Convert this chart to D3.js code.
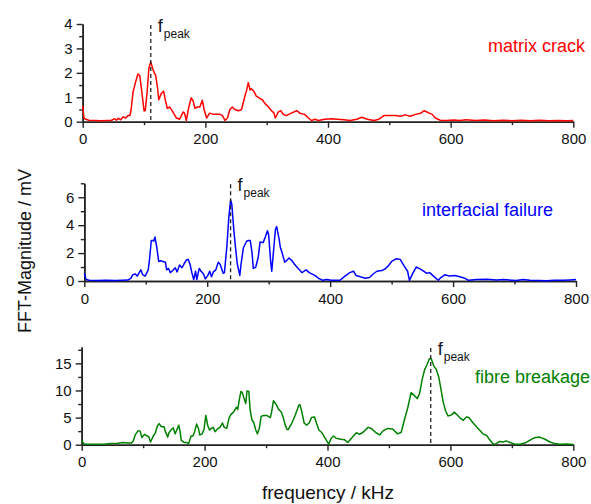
<!DOCTYPE html>
<html>
<head>
<meta charset="utf-8">
<script src="https://cdn.jsdelivr.net/npm/d3@7.9.0/dist/d3.min.js"></script>
<style>
  body { margin: 0; background: #fff; }
  svg text { font-family: Arial, "Liberation Sans", sans-serif; }
  .axis path, .axis line { stroke: #222; }
  .axis path { stroke-width: 1.6; }
  .axis line { stroke-width: 1.4; }
  .axis text { font-size: 15px; fill: #111; }
</style>
</head>
<body>
<div id="chart"></div>
<script>
// frequency (kHz) / magnitude (mV) pairs
const matrixCrack = [
  [0,0.65],[2,0.15],[5,0.1],[10,0.06],[20,0.05],[30,0.04],[40,0.05],[47,0.06],[52,0.12],[55,0.06],
  [58,0.14],[62,0.08],[66,0.2],[70,0.15],[74,0.25],[77,0.25],[79,0.5],[82,1.2],[86,1.6],[90,1.95],
  [93,1.9],[97,1.1],[100,0.45],[102,0.45],[105,1.2],[108,2.2],[111,2.45],[115,2.1],[119,1.9],[122,1.4],
  [124,0.9],[128,1.15],[132,1.25],[135,0.85],[138,0.55],[142,0.6],[147,0.4],[153,0.15],[158,0.1],[164,0.4],
  [166,0.35],[169,0.05],[173,0.6],[177,0.98],[180,0.85],[183,0.55],[187,0.6],[191,0.6],[195,0.88],[198,0.5],
  [202,0.15],[207,0.35],[213,0.3],[218,0.3],[224,0.3],[228,0.25],[232,0.05],[236,0.15],[240,0.5],[244,0.6],
  [248,0.5],[254,0.45],[259,0.5],[265,1.1],[267,1.25],[270,1.6],[273,1.3],[275,1.35],[279,1.25],[283,1.05],
  [289,0.95],[293,0.9],[297,0.75],[303,0.6],[308,0.45],[312,0.35],[314,0.15],[319,0.4],[323,0.45],[327,0.3],
  [332,0.25],[340,0.35],[349,0.45],[354,0.35],[362,0.3],[368,0.15],[373,0.05],[379,0.1],[384,0.05],[395,0.1],
  [406,0.12],[415,0.1],[426,0.08],[436,0.05],[447,0.1],[455,0.18],[464,0.1],[475,0.05],[483,0.1],[491,0.25],
  [499,0.25],[510,0.25],[518,0.22],[526,0.28],[534,0.22],[543,0.3],[551,0.35],[557,0.45],[565,0.35],[570,0.3],
  [575,0.15],[583,0.06],[594,0.05],[605,0.07],[615,0.05],[625,0.08],[640,0.05],[655,0.07],[670,0.04],[685,0.06],
  [700,0.04],[715,0.06],[730,0.04],[745,0.06],[760,0.04],[775,0.05],[790,0.04],[800,0.05]
];

const interfacialFailure = [
  [0,0.55],[3,0.1],[8,0.05],[20,0.04],[35,0.05],[50,0.04],[62,0.06],[71,0.07],[76,0.2],[79,0.45],
  [83,0.5],[86,0.35],[92,0.8],[95,0.45],[99,0.35],[104,0.8],[106,1.5],[109,2.9],[112,2.9],[113,2.85],
  [115,3.15],[118,2.4],[121,1.4],[124,1.45],[128,1.4],[132,1.35],[134,0.8],[137,0.9],[140,0.6],[144,0.75],
  [148,0.95],[151,0.65],[155,1.15],[159,0.95],[162,1.2],[166,1.5],[169,1.55],[172,1.2],[175,0.6],[178,0.1],
  [181,0.7],[183,0.1],[187,0.9],[190,0.7],[194,0.5],[197,0.15],[201,0.4],[204,0.7],[207,0.3],[210,0.65],
  [214,0.8],[218,1.35],[221,1.2],[226,0.55],[228,0.6],[232,2.5],[235,4.5],[238,5.8],[240,5.5],[243,3.8],
  [246,2.4],[249,1.2],[253,0.4],[255,1.2],[259,2.4],[264,2.85],[267,2.9],[270,2.9],[273,2.0],[275,0.9],
  [279,1.0],[283,1.7],[286,2.8],[291,2.75],[295,3.2],[298,3.6],[300,3.3],[303,1.5],[305,0.7],[308,2.2],
  [311,3.7],[313,3.9],[317,3.0],[319,2.4],[322,2.0],[326,1.35],[330,1.5],[333,1.65],[337,1.5],[342,1.2],
  [348,0.9],[354,0.6],[361,0.8],[366,0.6],[375,0.4],[381,0.2],[388,0.05],[394,0.1],[402,0.05],[410,0.05],
  [416,0.05],[424,0.35],[432,0.6],[438,0.7],[442,0.4],[449,0.3],[457,0.2],[464,0.25],[470,0.5],[476,0.7],
  [484,0.75],[489,0.85],[495,1.1],[500,1.4],[508,1.6],[514,1.55],[520,1.1],[526,0.7],[529,0.05],[535,0.6],
  [540,1.0],[547,0.85],[552,0.7],[557,0.55],[562,0.6],[568,0.35],[576,0.05],[580,0.25],[587,0.45],[594,0.35],
  [603,0.4],[611,0.3],[619,0.2],[625,0.05],[639,0.1],[655,0.12],[671,0.08],[682,0.1],[703,0.03],[714,0.1],
  [725,0.05],[740,0.04],[752,0.02],[765,0.06],[780,0.05],[790,0.08],[800,0.1]
];

const fibreBreakage = [
  [0,0.9],[3,0.2],[8,0.1],[20,0.08],[35,0.1],[48,0.2],[59,0.25],[67,0.4],[75,0.3],[81,0.3],
  [84,0.7],[87,1.8],[92,2.6],[95,2.5],[98,1.3],[102,1.9],[105,1.7],[109,1.5],[112,0.5],[116,1.5],
  [120,2.2],[123,3.4],[126,3.9],[129,3.4],[131,3.3],[134,3.3],[136,2.5],[140,1.4],[142,2.2],[146,2.8],
  [149,3.1],[152,2.0],[155,2.8],[158,3.6],[160,2.5],[162,0.8],[167,0.4],[171,0.4],[174,0.2],[178,1.6],
  [181,1.6],[184,2.5],[187,3.8],[190,3.0],[192,1.8],[196,2.0],[199,2.8],[202,5.4],[205,3.6],[208,2.7],
  [211,3.0],[214,3.2],[217,2.4],[221,2.9],[225,3.2],[229,4.0],[232,3.2],[236,3.0],[240,5.0],[243,5.6],
  [247,6.0],[249,6.4],[252,6.9],[254,6.5],[256,8.0],[259,9.8],[261,9.7],[264,8.6],[267,7.6],[269,9.9],
  [272,9.8],[274,6.5],[277,4.6],[280,4.1],[283,2.8],[286,2.0],[289,3.0],[292,5.2],[296,5.4],[301,5.4],
  [307,5.0],[309,6.0],[312,8.1],[316,7.5],[320,6.6],[325,6.0],[328,5.0],[331,3.7],[334,2.8],[336,2.8],
  [342,4.0],[347,5.3],[353,7.2],[355,7.4],[358,6.2],[362,4.0],[366,3.6],[370,4.0],[374,5.0],[379,5.1],
  [382,4.0],[386,2.7],[391,2.2],[396,1.2],[402,0.1],[406,1.2],[410,1.6],[414,1.2],[422,1.0],[428,0.9],
  [433,0.4],[439,1.2],[447,2.2],[452,1.9],[458,2.3],[466,3.2],[471,3.0],[479,2.2],[485,1.8],[490,2.5],
  [498,3.0],[506,2.9],[514,2.0],[520,2.3],[525,4.5],[531,7.0],[536,9.6],[542,9.0],[546,8.5],[550,9.5],
  [554,12.0],[558,13.8],[562,14.8],[566,15.9],[569,15.8],[573,14.5],[577,13.9],[581,12.5],[585,10.0],[588,8.0],
  [592,6.3],[596,5.3],[602,5.5],[606,6.0],[610,5.6],[615,5.0],[621,4.5],[626,5.1],[630,5.0],[637,4.0],
  [645,3.0],[653,2.0],[659,1.7],[664,0.9],[670,0.1],[675,0.2],[680,0.6],[686,0.5],[691,0.7],[697,0.4],
  [705,0.1],[713,0.1],[721,0.3],[729,0.8],[737,1.3],[745,1.4],[754,1.0],[762,0.5],[770,0.2],[778,0.1],
  [789,0.15],[800,0.05]
];

const seriesNames = ['matrix crack', 'interfacial failure', 'fibre breakage'];
const seriesColors = ['#ff0000', '#0000ff', '#008000'];
const peakFreqs = [111, 238, 568];
const yMax = [4, 7, 18];
const yMajorTicks = [[0, 1, 2, 3, 4], [0, 2, 4, 6], [0, 5, 10, 15]];
const yMinorTicks = [[0.5, 1.5, 2.5, 3.5], [1, 3, 5, 7], [2.5, 7.5, 12.5, 17.5]];
const xMajorTicks = [0, 200, 400, 600, 800];
const xMinorTicks = [100, 300, 500, 700];

const width = 591;
const height = 504;

// pixel frame of each panel
const panels = [
  { left: 82.7, right: 573.3, bottom: 121.7, top: 24, label: [488, 52] },
  { left: 84.3, right: 576, bottom: 281, top: 183.3, label: [422, 216] },
  { left: 81.7, right: 573.3, bottom: 444.7, top: 347.1, label: [475, 383] },
];

const allData = [matrixCrack, interfacialFailure, fibreBreakage];
const fmt = d3.format('d');

const svg = d3
  .select('#chart')
  .append('svg')
  .attr('width', width)
  .attr('height', height);

panels.forEach((p, i) => {
  const x = d3.scaleLinear().domain([0, 800]).range([p.left, p.right]);
  const y = d3.scaleLinear().domain([0, yMax[i]]).range([p.bottom, p.top]);
  const g = svg.append('g');

  // minor ticks first, then the labelled axes
  g.append('g')
    .attr('class', 'axis')
    .attr('transform', `translate(0,${p.bottom})`)
    .call(d3.axisBottom(x).tickValues(xMinorTicks).tickSize(3.5).tickSizeOuter(0).tickFormat(''));
  g.append('g')
    .attr('class', 'axis')
    .attr('transform', `translate(${p.left},0)`)
    .call(d3.axisLeft(y).tickValues(yMinorTicks[i]).tickSize(3.5).tickSizeOuter(0).tickFormat(''));

  g.append('g')
    .attr('class', 'axis')
    .attr('transform', `translate(0,${p.bottom})`)
    .call(d3.axisBottom(x).tickValues(xMajorTicks).tickSize(6).tickSizeOuter(0).tickPadding(6).tickFormat(fmt));
  g.append('g')
    .attr('class', 'axis')
    .attr('transform', `translate(${p.left},0)`)
    .call(d3.axisLeft(y).tickValues(yMajorTicks[i]).tickSize(6).tickSizeOuter(0).tickPadding(4).tickFormat(fmt));

  const line = d3
    .line()
    .x((d) => x(d[0]))
    .y((d) => y(d[1]));

  g.append('path')
    .datum(allData[i])
    .attr('fill', 'none')
    .attr('stroke', seriesColors[i])
    .attr('stroke-width', 1.5)
    .attr('stroke-linejoin', 'round')
    .attr('d', line);

  // f_peak marker
  const px = x(peakFreqs[i]);
  g.append('line')
    .attr('x1', px)
    .attr('x2', px)
    .attr('y1', p.top + 1)
    .attr('y2', p.bottom)
    .attr('stroke', '#222')
    .attr('stroke-width', 1.3)
    .attr('stroke-dasharray', '4,3');

  const t = g.append('text')
    .attr('x', px + 7)
    .attr('y', p.top + 8)
    .attr('font-size', 18)
    .attr('fill', '#111');
  t.append('tspan').text('f');
  t.append('tspan')
    .attr('dx', 1)
    .attr('dy', 6)
    .attr('font-size', 12)
    .text('peak');

  g.append('text')
    .attr('x', p.label[0])
    .attr('y', p.label[1])
    .attr('font-size', 18)
    .attr('fill', seriesColors[i])
    .text(seriesNames[i]);
});

svg.append('text')
  .attr('transform', 'translate(31,251) rotate(-90)')
  .attr('text-anchor', 'middle')
  .attr('font-size', 18)
  .attr('fill', '#111')
  .text('FFT-Magnitude / mV');

svg.append('text')
  .attr('x', 328)
  .attr('y', 499)
  .attr('text-anchor', 'middle')
  .attr('font-size', 19)
  .attr('fill', '#111')
  .text('frequency / kHz');
</script>
</body>
</html>
